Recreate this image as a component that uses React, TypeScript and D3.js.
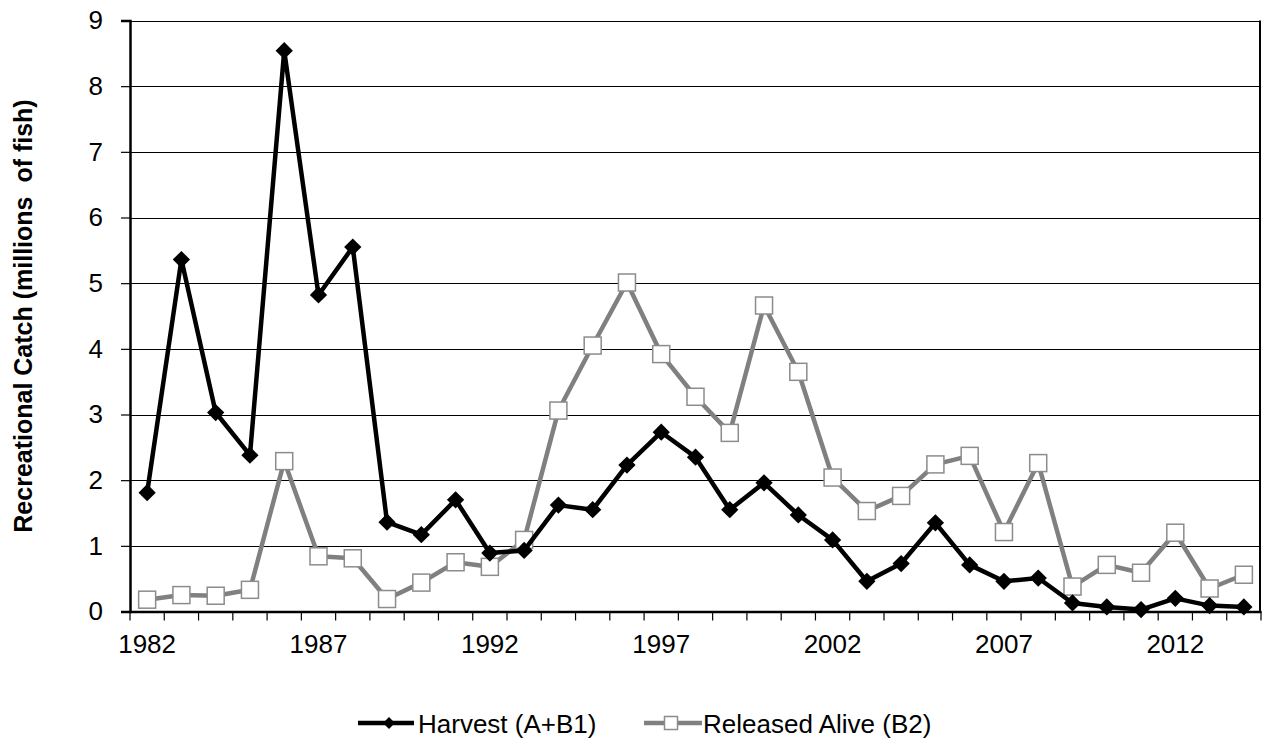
import React, { useEffect, useRef } from "react";
import * as d3 from "d3";

const years = d3.range(1982, 2015).map(String);
const harvest = [
  1.81, 5.36, 3.03, 2.38, 8.54, 4.82, 5.55, 1.36, 1.17, 1.7, 0.89, 0.93, 1.62,
  1.55, 2.23, 2.73, 2.35, 1.55, 1.96, 1.47, 1.09, 0.46, 0.73, 1.35, 0.71, 0.46,
  0.51, 0.13, 0.07, 0.03, 0.2, 0.09, 0.07,
];
const released = [
  0.18, 0.25, 0.24, 0.33, 2.29, 0.84, 0.81, 0.19, 0.44, 0.75, 0.68, 1.09, 3.06,
  4.05, 5.01, 3.92, 3.27, 2.72, 4.66, 3.65, 2.04, 1.53, 1.76, 2.24, 2.37, 1.21,
  2.26, 0.38, 0.71, 0.59, 1.2, 0.35, 0.56,
];
const yTicks = [0, 1, 2, 3, 4, 5, 6, 7, 8, 9];
const xLabels = ["1982", "1987", "1992", "1997", "2002", "2007", "2012"];

const W = 1262;
const H = 740;

export default function App() {
  const ref = useRef<SVGSVGElement>(null);

  useEffect(() => {
    const svg = d3.select(ref.current);
    svg.selectAll("*").remove();
    const m = { top: 20.5, right: 1, bottom: 128.5, left: 130 };
    const font = "'Liberation Sans', Arial, sans-serif";
    const fs = 26;

    const x = d3.scaleBand().domain(years).range([m.left, W - m.right]).padding(0);
    const y = d3.scaleLinear().domain([0, 9]).range([H - m.bottom, m.top]);
    const cx = (d: string) => (x(d) as number) + x.bandwidth() / 2;

    // gridlines
    svg
      .append("g")
      .selectAll("line")
      .data(yTicks)
      .enter()
      .append("line")
      .attr("x1", m.left)
      .attr("x2", W - m.right)
      .attr("y1", (d) => Math.round(y(d)) + 0.5)
      .attr("y2", (d) => Math.round(y(d)) + 0.5)
      .attr("stroke", "#000")
      .attr("stroke-width", 1.2);

    // plot border right
    svg
      .append("line")
      .attr("x1", W - m.right - 1)
      .attr("x2", W - m.right - 1)
      .attr("y1", y(9))
      .attr("y2", y(0))
      .attr("stroke", "#000")
      .attr("stroke-width", 2);

    // y axis
    const yAxis = svg
      .append("g")
      .attr("transform", `translate(${m.left},0)`)
      .call(d3.axisLeft(y).tickValues(yTicks).tickSize(9).tickPadding(18).tickFormat(d3.format("d")));
    yAxis.select(".domain").attr("stroke-width", 2.5);
    yAxis.selectAll(".tick line").attr("stroke-width", 1.2);
    yAxis.selectAll("text").attr("font-size", fs).attr("font-family", font).attr("fill", "#000");

    // x axis (category boundaries as ticks)
    const xAxis = svg
      .append("g")
      .attr("transform", `translate(0,${y(0)})`)
      .call(d3.axisBottom(x).tickSize(0).tickFormat(() => ""));
    xAxis.select(".domain").attr("stroke-width", 2.5);
    xAxis
      .selectAll("line.bound")
      .data(years.concat(["end"]))
      .enter()
      .append("line")
      .attr("class", "bound")
      .attr("x1", (d, i) => m.left + i * x.bandwidth())
      .attr("x2", (d, i) => m.left + i * x.bandwidth())
      .attr("y1", 0)
      .attr("y2", 9)
      .attr("stroke", "#000")
      .attr("stroke-width", 1.2);
    xAxis
      .selectAll("text.lbl")
      .data(xLabels)
      .enter()
      .append("text")
      .attr("class", "lbl")
      .attr("x", (d) => cx(d))
      .attr("y", 41)
      .attr("text-anchor", "middle")
      .attr("font-size", fs)
      .attr("font-family", font)
      .attr("fill", "#000")
      .text((d) => d);

    // y title
    svg
      .append("text")
      .attr("transform", `translate(32,${(y(0) + y(9)) / 2}) rotate(-90)`)
      .attr("text-anchor", "middle")
      .attr("font-size", 25)
      .attr("font-weight", "bold")
      .attr("font-family", font)
      .style("white-space", "pre")
      .text("Recreational Catch (millions  of fish)");

    const line = d3
      .line<number>()
      .x((d, i) => cx(years[i]))
      .y((d) => y(d));

    // released series
    svg
      .append("path")
      .datum(released)
      .attr("d", line)
      .attr("fill", "none")
      .attr("stroke", "#808080")
      .attr("stroke-width", 4.5)
      .attr("stroke-linejoin", "round");
    svg
      .append("g")
      .selectAll("rect")
      .data(released)
      .enter()
      .append("rect")
      .attr("x", (d, i) => cx(years[i]) - 8.5)
      .attr("y", (d) => y(d) - 8.5)
      .attr("width", 17)
      .attr("height", 17)
      .attr("fill", "#fff")
      .attr("stroke", "#8c8c8c")
      .attr("stroke-width", 1.5);

    // harvest series
    svg
      .append("path")
      .datum(harvest)
      .attr("d", line)
      .attr("fill", "none")
      .attr("stroke", "#000")
      .attr("stroke-width", 4.5)
      .attr("stroke-linejoin", "round");
    const diamond = d3.symbol().type(d3.symbolDiamond2).size(190);
    svg
      .append("g")
      .selectAll("path")
      .data(harvest)
      .enter()
      .append("path")
      .attr("d", diamond)
      .attr("transform", (d, i) => `translate(${cx(years[i])},${y(d)})`)
      .attr("fill", "#000");

    // legend
    const lg = svg.append("g").attr("transform", "translate(0,723)");
    lg.append("line").attr("x1", 358).attr("x2", 414).attr("stroke", "#000").attr("stroke-width", 4.5);
    lg.append("path")
      .attr("d", d3.symbol().type(d3.symbolDiamond2).size(90))
      .attr("transform", "translate(389,0)");
    lg.append("text")
      .attr("x", 418)
      .attr("y", 9.5)
      .attr("font-size", fs)
      .attr("font-family", font)
      .text("Harvest (A+B1)");
    lg.append("line").attr("x1", 644).attr("x2", 702).attr("stroke", "#808080").attr("stroke-width", 4.5);
    lg.append("rect")
      .attr("x", 664.5)
      .attr("y", -6.5)
      .attr("width", 13)
      .attr("height", 13)
      .attr("fill", "#fff")
      .attr("stroke", "#8c8c8c")
      .attr("stroke-width", 1.5);
    lg.append("text")
      .attr("x", 703)
      .attr("y", 9.5)
      .attr("font-size", fs)
      .attr("font-family", font)
      .text("Released Alive (B2)");
  }, []);

  return (
    <svg
      ref={ref}
      width={W}
      height={H}
      style={{ position: "absolute", left: 0, top: 0, background: "#fff" }}
    />
  );
}
